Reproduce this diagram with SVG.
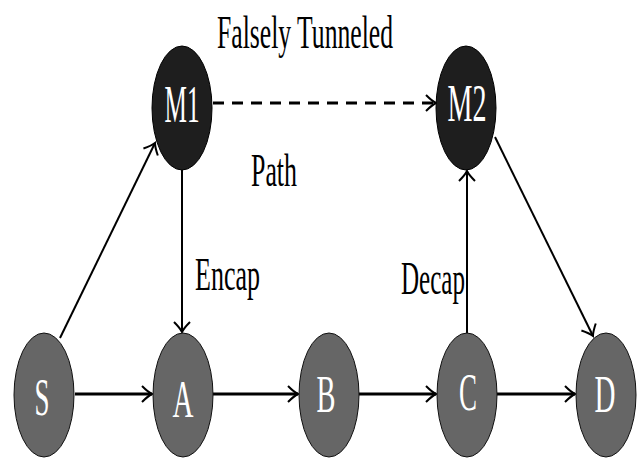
<svg xmlns="http://www.w3.org/2000/svg" width="638" height="458" viewBox="0 0 638 458">
<defs>
<style>
.mal{fill:#1e1e1e;stroke:#000;stroke-width:1}
.nd{fill:#666;stroke:#111;stroke-width:1}
.nl{font-family:"Liberation Serif","Times New Roman",serif;font-size:52px;fill:#fff;text-anchor:middle}
.lb{font-family:"Liberation Serif","Times New Roman",serif;font-size:46px;fill:#000}
.e{fill:none;stroke:#000;stroke-width:2}
.h{stroke-width:3}
.d{stroke-width:3;stroke-dasharray:11 8}
</style>
<marker id="ah" markerUnits="userSpaceOnUse" markerWidth="24" markerHeight="24" refX="0" refY="0" viewBox="-14 -12 16 24" orient="auto">
<path d="M-10,-8 Q-4,-2 0,0 Q-4,2 -10,8" fill="none" stroke="#000" stroke-width="2"/>
</marker>
</defs>
<g id="connectors">
<line class="e h" x1="75" y1="394" x2="152" y2="394" marker-end="url(#ah)"/>
<line class="e h" x1="213" y1="394" x2="298" y2="394" marker-end="url(#ah)"/>
<line class="e h" x1="359" y1="394" x2="436" y2="394" marker-end="url(#ah)"/>
<line class="e h" x1="497" y1="394" x2="575" y2="394" marker-end="url(#ah)"/>
<line class="e" x1="60" y1="338" x2="155" y2="143" marker-end="url(#ah)"/>
<line class="e" x1="182" y1="170" x2="182" y2="332" marker-end="url(#ah)"/>
<line class="e" x1="467" y1="333" x2="467" y2="171" marker-end="url(#ah)"/>
<line class="e" x1="495" y1="137" x2="593" y2="336" marker-end="url(#ah)"/>
<line class="e d" x1="213" y1="103" x2="436" y2="103" marker-end="url(#ah)"/>
</g>
<g id="M1"><ellipse class="mal" cx="182" cy="108" rx="30" ry="62"/><text class="nl" x="182" y="122" textLength="35" lengthAdjust="spacingAndGlyphs">M1</text></g>
<g id="M2"><ellipse class="mal" cx="466" cy="108" rx="30" ry="62"/><text class="nl" x="467" y="121" textLength="39" lengthAdjust="spacingAndGlyphs">M2</text></g>
<g id="S"><ellipse class="nd" cx="44" cy="395" rx="30" ry="62"/><text class="nl" x="42" y="415" textLength="15" lengthAdjust="spacingAndGlyphs">S</text></g>
<g id="A"><ellipse class="nd" cx="183" cy="395" rx="30" ry="62"/><text class="nl" x="183" y="417" textLength="21" lengthAdjust="spacingAndGlyphs">A</text></g>
<g id="B"><ellipse class="nd" cx="329" cy="395" rx="30" ry="62"/><text class="nl" x="326" y="412" textLength="19" lengthAdjust="spacingAndGlyphs">B</text></g>
<g id="C"><ellipse class="nd" cx="467" cy="395" rx="30" ry="62"/><text class="nl" x="468" y="410" textLength="18" lengthAdjust="spacingAndGlyphs">C</text></g>
<g id="D"><ellipse class="nd" cx="606" cy="395" rx="30" ry="62"/><text class="nl" x="605" y="412" textLength="21" lengthAdjust="spacingAndGlyphs">D</text></g>
<g id="labels">
<text class="lb" x="217" y="48" textLength="176" lengthAdjust="spacingAndGlyphs">Falsely Tunneled</text>
<text class="lb" x="251" y="186" textLength="46" lengthAdjust="spacingAndGlyphs">Path</text>
<text class="lb" x="195" y="290" textLength="65" lengthAdjust="spacingAndGlyphs">Encap</text>
<text class="lb" x="401" y="294" textLength="64" lengthAdjust="spacingAndGlyphs">Decap</text>
</g>
</svg>
